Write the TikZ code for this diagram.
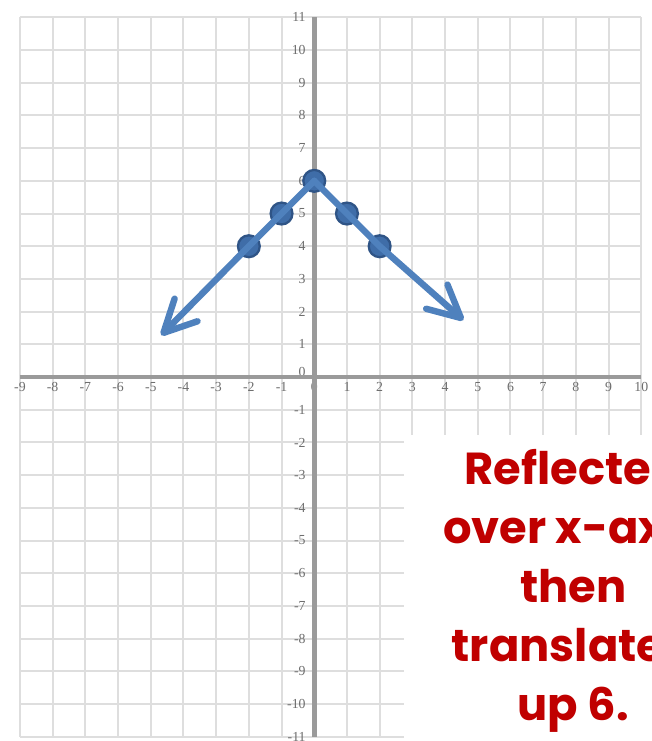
\documentclass[tikz,border=0pt]{standalone}
\usepackage{fontspec}
\setmainfont{Liberation Serif}
\newfontfamily\notefont{Poppins}
\usetikzlibrary{arrows.meta}
\definecolor{gridc}{HTML}{DEDEDE}
\definecolor{axisc}{HTML}{9A9A9A}
\definecolor{lblc}{HTML}{6E6E6E}
\definecolor{lineblue}{HTML}{4F81BD}
\definecolor{dotblue}{HTML}{3F6DA8}
\definecolor{dotedge}{HTML}{2F5486}
\definecolor{notered}{HTML}{C00000}
\tikzset{
  gridline/.style={draw=gridc, line width=0.9pt},
  axisline/.style={draw=axisc, line width=2pt},
  ticklbl/.style={text=lblc, font=\fontsize{6}{6}\selectfont, inner sep=0pt},
  graphline/.style={draw=lineblue, line width=2.8pt, line cap=round, line join=round},
  barb/.style={-{Straight Barb[length=14pt,width=14pt,round]}},
  ptdot/.style={circle, fill=dotblue, draw=dotedge, line width=1pt, minimum size=9.5pt, inner sep=0pt},
  notebox/.style={fill=white, draw=none},
  notetext/.style={text=notered, align=center, font=\notefont\bfseries\fontsize{19.5}{25.7}\selectfont}
}
\begin{document}
\begin{tikzpicture}[x=0.5cm,y=0.5cm]
\useasboundingbox (-9.61,-11.13) rectangle (10.31,11.53);
\clip (-9.61,-11.13) rectangle (10.31,11.53);
\fill[white] (-9.61,-11.13) rectangle (10.31,11.53);
% grid
\draw[gridline, step=0.5cm] (-9,-11) grid (10,11);
% tick labels
\foreach \x in {-9,...,-1,1,2,...,10}
  \node[ticklbl] (xl\x) at (\x,-0.3) {\x};
\node[ticklbl] (xl0) at (0,-0.3) {0};
\foreach \y in {-11,...,-1,1,2,...,11}
  \node[ticklbl, anchor=east] (yl\y) at (-0.25,\y) {\y};
\node[ticklbl, anchor=east] (yl0) at (-0.25,0.15) {0};
% axes
\draw[axisline] (-9,0) -- (10,0);
\draw[axisline] (0,-11) -- (0,11);
% note box
\fill[notebox] (2.75,-1.77) rectangle (10.4,-11.2);
% graph
\node[ptdot] (p1) at (-2,4) {};
\node[ptdot] (p2) at (-1,5) {};
\node[ptdot] (p3) at (0,6) {};
\node[ptdot] (p4) at (1,5) {};
\node[ptdot] (p5) at (2,4) {};
\coordinate (tipL) at (-4.68,1.28);
\coordinate (tipR) at (4.56,1.74);
\draw[graphline, barb] (p3.center) -- (p2.center) -- (p1.center) -- (tipL);
\draw[graphline, barb] (p3.center) -- (p4.center) -- (p5.center) -- (tipR);
% note
\node[notetext] (note) at (7.92,-6.55) {Reflected\\over x-axis\\then\\translated\\up 6.};
\end{tikzpicture}
\end{document}
